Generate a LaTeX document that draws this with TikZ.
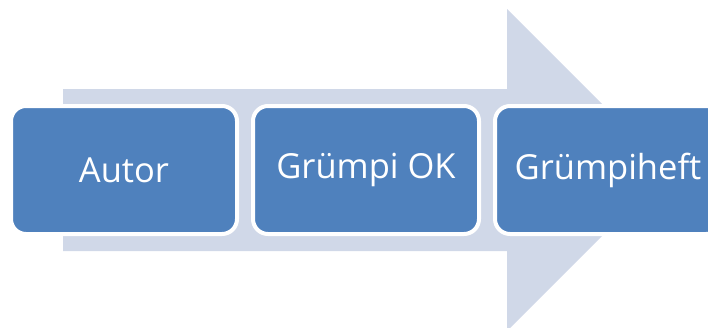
\documentclass[tikz,border=0pt]{standalone}
\usepackage{fontspec}
\setmainfont{Open Sans}
\definecolor{boxblue}{HTML}{4F81BD}
\definecolor{arrowgray}{HTML}{D0D8E8}
\begin{document}
\begin{tikzpicture}[x=1pt,y=-1pt,
  stagebox/.style={draw=white, line width=4pt, fill=boxblue, rounded corners=15pt,
    minimum width=226pt, minimum height=128pt, inner sep=0pt,
    text=white, font=\fontsize{34.5}{42}\selectfont}]
\useasboundingbox (0,0) rectangle (708,327);
\clip (0,0) rectangle (708,327);
\fill[arrowgray] (63,89) -- (507,89) -- (507,9) -- (668,170) -- (507,331) -- (507,251) -- (63,251) -- cycle;
\node[stagebox] (a) at (124,170) {Autor};
\node[stagebox] (b) at (366,170) {Grümpi OK};
\node[stagebox] (c) at (608,170) {Grümpiheft};
\end{tikzpicture}
\end{document}
